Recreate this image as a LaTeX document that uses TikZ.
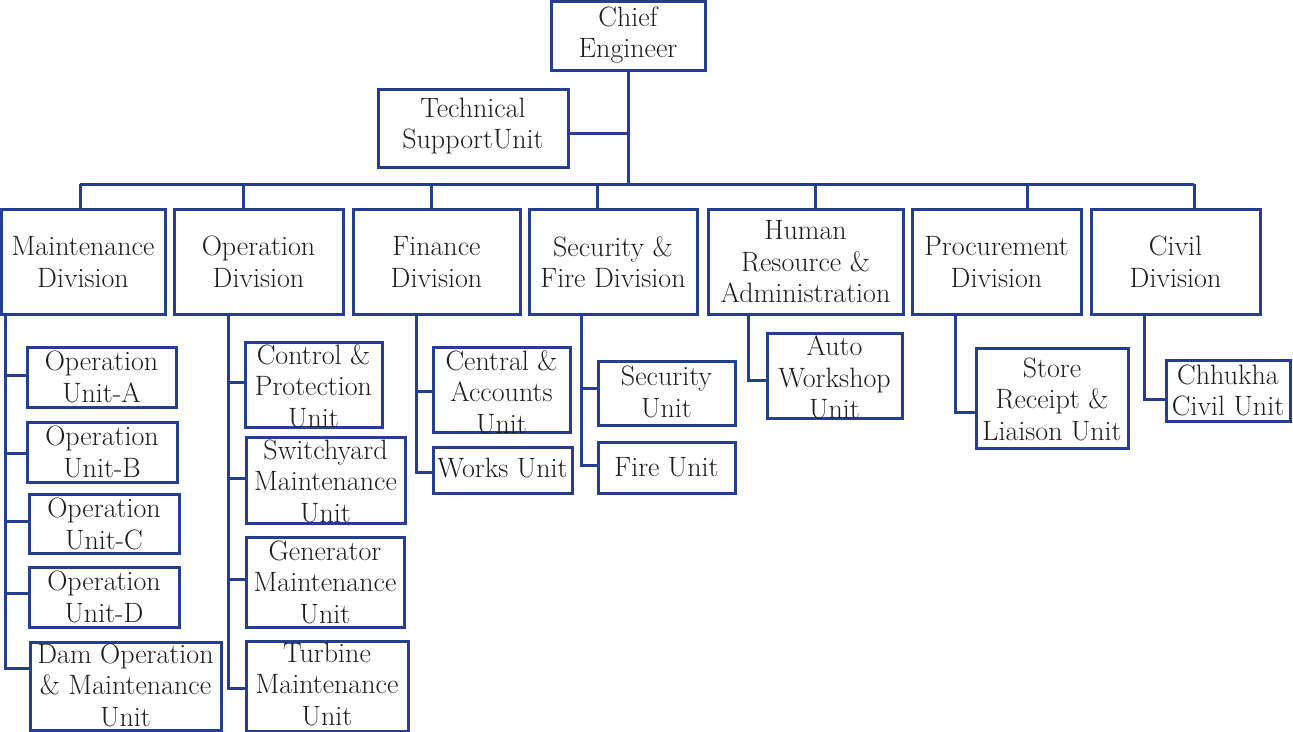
\documentclass[tikz,border=0pt]{standalone}
\usepackage{xcolor}
\definecolor{lineblue}{RGB}{38,62,146}
\definecolor{txtgray}{RGB}{30,27,28}
\tikzset{
  box/.style={draw=lineblue, line width=3pt, inner sep=0pt, rectangle},
  txt/.style={text=txtgray, align=center, inner sep=0pt, font=\fontsize{28}{31.5}\selectfont},
  conn/.style={draw=lineblue, line width=3pt},
}
% name, cx, cy, w, h, text-y, text
\newcommand\orgbox[7]{%
  \node[box, minimum width=#4pt, minimum height=#5pt] (#1) at (#2,#3) {};
  \node[txt] (#1-t) at (#2,#6) {#7};
}
\begin{document}
\begin{tikzpicture}[x=1pt,y=-1pt]
\useasboundingbox (0,0) rectangle (1293,731);
% top
\orgbox{chief}{628}{35.5}{154}{69}{35}{Chief\\Engineer}
\orgbox{tech}{473}{128}{190}{78}{126}{Technical\\SupportUnit}
% divisions
\orgbox{maint}{83}{261.5}{164}{105}{262}{Maintenance\\Division}
\orgbox{oper}{258.5}{261.5}{169}{105}{262}{Operation\\Division}
\orgbox{fin}{436.5}{261.5}{167}{105}{262}{Finance\\Division}
\orgbox{secf}{613}{261.5}{168}{105}{262}{Security \&\\Fire Division}
\orgbox{hr}{805.5}{261.5}{195}{105}{262}{Human\\Resource \&\\Administration}
\orgbox{proc}{996.5}{261.5}{169}{105}{262}{Procurement\\Division}
\orgbox{civil}{1175.5}{261.5}{169}{105}{262}{Civil\\Division}
% maintenance units
\orgbox{opA}{101.5}{377}{149}{60}{377}{Operation\\Unit-A}
\orgbox{opB}{102}{452}{150}{60}{452}{Operation\\Unit-B}
\orgbox{opC}{104}{523.5}{150}{59}{524}{Operation\\Unit-C}
\orgbox{opD}{104}{597}{150}{60}{597}{Operation\\Unit-D}
\orgbox{dam}{125.5}{686}{191}{88}{685}{Dam Operation\\\& Maintenance\\Unit}
% operation units
\orgbox{ctrl}{313.5}{384.5}{137}{85}{386}{Control \&\\Protection\\Unit}
\orgbox{swy}{325.5}{480}{159}{86}{481}{Switchyard\\Maintenance\\Unit}
\orgbox{gen}{325}{582}{158}{90}{582}{Generator\\Maintenance\\Unit}
\orgbox{turb}{327}{686}{162}{90}{684}{Turbine\\Maintenance\\Unit}
% finance units
\orgbox{cen}{501.5}{389.5}{137}{85}{392}{Central \&\\Accounts\\Unit}
\orgbox{works}{502.5}{470}{139}{46}{468}{Works Unit}
% security units
\orgbox{secu}{666.5}{393}{137}{64}{392}{Security\\Unit}
\orgbox{fire}{666.5}{467.5}{137}{51}{467}{Fire Unit}
% hr unit
\orgbox{auto}{834.5}{375.5}{135}{85}{377.5}{Auto\\Workshop\\Unit}
% procurement unit
\orgbox{store}{1052}{398}{152}{100}{399}{Store\\Receipt \&\\Liaison Unit}
% civil unit
\orgbox{chh}{1228}{390.5}{124}{61}{390.5}{Chhukha\\Civil Unit}
% bus
\coordinate (b1) at (80,184);
\coordinate (b2) at (243,184);
\coordinate (b3) at (431,184);
\coordinate (b4) at (597,184);
\coordinate (b5) at (815,184);
\coordinate (b6) at (1027,184);
\coordinate (b7) at (1194,184);
\draw[conn] (chief.south) -- (chief.south |- b1);
\draw[conn] ([yshift=-5pt]tech.east) -- ([yshift=-5pt]tech.east -| chief.south);
\draw[conn] (b1) -- (b7);
\draw[conn] (b1) -- (b1 |- maint.north);
\draw[conn] (b2) -- (b2 |- oper.north);
\draw[conn] (b3) -- (b3 |- fin.north);
\draw[conn] (b4) -- (b4 |- secf.north);
\draw[conn] (b5) -- (b5 |- hr.north);
\draw[conn] (b6) -- (b6 |- proc.north);
\draw[conn] (b7) -- (b7 |- civil.north);
% trunks
\coordinate (mT) at ([xshift=6pt]maint.south west);
\coordinate (oT) at ([xshift=56pt]oper.south west);
\coordinate (fT) at ([xshift=65pt]fin.south west);
\coordinate (sT) at ([xshift=54pt]secf.south west);
\coordinate (hT) at ([xshift=42pt]hr.south west);
\coordinate (pT) at ([xshift=45pt]proc.south west);
\coordinate (cT) at ([xshift=55pt]civil.south west);
\draw[conn] (mT) |- ([yshift=18pt]dam.west);
\draw[conn] (mT) |- ([yshift=2pt]opA.west);
\draw[conn] (mT) |- ([yshift=-1pt]opB.west);
\draw[conn] (mT) |- ([yshift=2pt]opC.west);
\draw[conn] (mT) |- ([yshift=4pt]opD.west);
\draw[conn] (oT) |- ([yshift=-2pt]turb.west);
\draw[conn] (oT) |- ([yshift=2.5pt]ctrl.west);
\draw[conn] (oT) |- ([yshift=2pt]swy.west);
\draw[conn] (oT) |- ([yshift=3pt]gen.west);
\draw[conn] (fT) |- ([yshift=-2pt]works.west);
\draw[conn] (fT) |- ([yshift=-1.5pt]cen.west);
\draw[conn] (sT) |- ([yshift=2.5pt]fire.west);
\draw[conn] (sT) |- ([yshift=5pt]secu.west);
\draw[conn] (hT) |- ([yshift=-4.5pt]auto.west);
\draw[conn] (pT) |- ([yshift=-14pt]store.west);
\draw[conn] (cT) |- ([yshift=-8.5pt]chh.west);
\end{tikzpicture}
\end{document}
